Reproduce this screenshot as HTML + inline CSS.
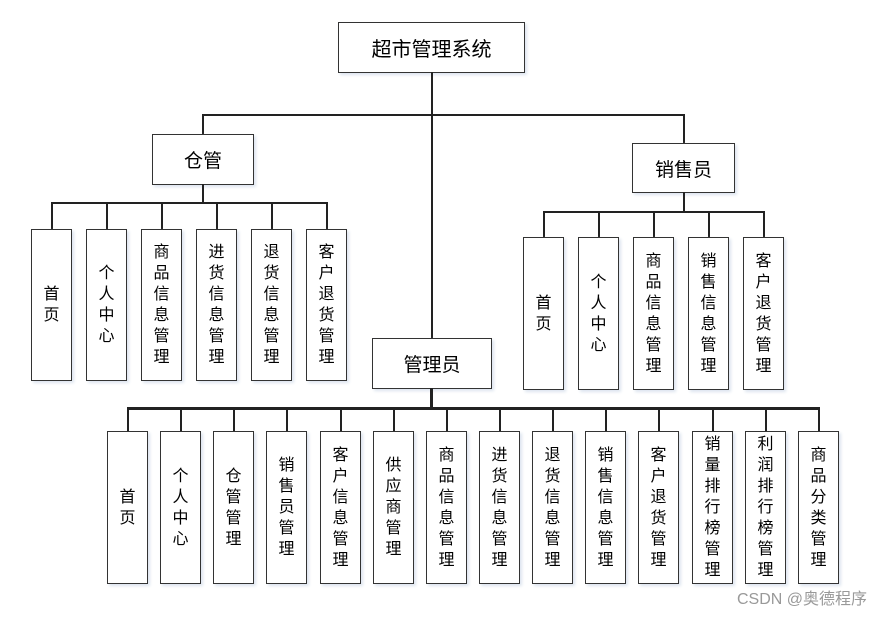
<!DOCTYPE html>
<html><head><meta charset="utf-8"><style>
body{margin:0;width:881px;height:617px;background:#fff;position:relative;font-family:"Liberation Sans","Noto Sans CJK SC",sans-serif;overflow:hidden}
.b{position:absolute;box-sizing:border-box;border:1.5px solid #333;background:#fff;display:flex;align-items:center;justify-content:center;text-align:center;color:#000;box-shadow:2px 2px 3px #dde4ef}
.v{font-size:16px;line-height:21px;width:41px}
.l{position:absolute;background:#222}
.w{position:absolute;right:14px;bottom:8px;font-size:16px;color:#999}
</style></head><body>
<!-- root -->
<div class="b" style="left:338px;top:22px;width:187px;height:51px;font-size:20px">超市管理系统</div>
<div class="l" style="left:431px;top:72px;width:2px;height:266px"></div>
<div class="l" style="left:202px;top:114px;width:482px;height:1.5px"></div>
<div class="l" style="left:202px;top:114px;width:1.5px;height:20px"></div>
<div class="l" style="left:683px;top:114px;width:1.5px;height:29px"></div>
<!-- 仓管 -->
<div class="b" style="left:152px;top:134px;width:102px;height:51px;font-size:19px">仓管</div>
<div class="l" style="left:202px;top:184px;width:1.5px;height:19px"></div>
<div class="l" style="left:51px;top:202px;width:276px;height:1.5px"></div>
<div class="l" style="left:51px;top:202px;width:1.5px;height:27px"></div>
<div class="l" style="left:106px;top:202px;width:1.5px;height:27px"></div>
<div class="l" style="left:161px;top:202px;width:1.5px;height:27px"></div>
<div class="l" style="left:216px;top:202px;width:1.5px;height:27px"></div>
<div class="l" style="left:271px;top:202px;width:1.5px;height:27px"></div>
<div class="l" style="left:326px;top:202px;width:1.5px;height:27px"></div>
<div class="b v" style="left:31px;top:229px;height:152px">首<br>页</div>
<div class="b v" style="left:86px;top:229px;height:152px">个<br>人<br>中<br>心</div>
<div class="b v" style="left:141px;top:229px;height:152px">商<br>品<br>信<br>息<br>管<br>理</div>
<div class="b v" style="left:196px;top:229px;height:152px">进<br>货<br>信<br>息<br>管<br>理</div>
<div class="b v" style="left:251px;top:229px;height:152px">退<br>货<br>信<br>息<br>管<br>理</div>
<div class="b v" style="left:306px;top:229px;height:152px">客<br>户<br>退<br>货<br>管<br>理</div>
<!-- 销售员 -->
<div class="b" style="left:632px;top:143px;width:103px;height:50px;font-size:19px">销售员</div>
<div class="l" style="left:683px;top:192px;width:2px;height:20px"></div>
<div class="l" style="left:543px;top:211px;width:221px;height:2px"></div>
<div class="l" style="left:543px;top:211px;width:1.5px;height:26px"></div>
<div class="l" style="left:598px;top:211px;width:1.5px;height:26px"></div>
<div class="l" style="left:653px;top:211px;width:1.5px;height:26px"></div>
<div class="l" style="left:708px;top:211px;width:1.5px;height:26px"></div>
<div class="l" style="left:763px;top:211px;width:1.5px;height:26px"></div>
<div class="b v" style="left:523px;top:237px;height:153px">首<br>页</div>
<div class="b v" style="left:578px;top:237px;height:153px">个<br>人<br>中<br>心</div>
<div class="b v" style="left:633px;top:237px;height:153px">商<br>品<br>信<br>息<br>管<br>理</div>
<div class="b v" style="left:688px;top:237px;height:153px">销<br>售<br>信<br>息<br>管<br>理</div>
<div class="b v" style="left:743px;top:237px;height:153px">客<br>户<br>退<br>货<br>管<br>理</div>
<!-- 管理员 -->
<div class="b" style="left:372px;top:338px;width:120px;height:51px;font-size:19px">管理员</div>
<div class="l" style="left:430px;top:388px;width:3px;height:21px"></div>
<div class="l" style="left:127px;top:407px;width:693px;height:2.5px"></div>
<div class="b v" style="left:107px;top:431px;height:153px">首<br>页</div>
<div class="b v" style="left:160px;top:431px;height:153px">个<br>人<br>中<br>心</div>
<div class="b v" style="left:213px;top:431px;height:153px">仓<br>管<br>管<br>理</div>
<div class="b v" style="left:266px;top:431px;height:153px">销<br>售<br>员<br>管<br>理</div>
<div class="b v" style="left:320px;top:431px;height:153px">客<br>户<br>信<br>息<br>管<br>理</div>
<div class="b v" style="left:373px;top:431px;height:153px">供<br>应<br>商<br>管<br>理</div>
<div class="b v" style="left:426px;top:431px;height:153px">商<br>品<br>信<br>息<br>管<br>理</div>
<div class="b v" style="left:479px;top:431px;height:153px">进<br>货<br>信<br>息<br>管<br>理</div>
<div class="b v" style="left:532px;top:431px;height:153px">退<br>货<br>信<br>息<br>管<br>理</div>
<div class="b v" style="left:585px;top:431px;height:153px">销<br>售<br>信<br>息<br>管<br>理</div>
<div class="b v" style="left:638px;top:431px;height:153px">客<br>户<br>退<br>货<br>管<br>理</div>
<div class="b v" style="left:692px;top:431px;height:153px">销<br>量<br>排<br>行<br>榜<br>管<br>理</div>
<div class="b v" style="left:745px;top:431px;height:153px">利<br>润<br>排<br>行<br>榜<br>管<br>理</div>
<div class="b v" style="left:798px;top:431px;height:153px">商<br>品<br>分<br>类<br>管<br>理</div>
<div class="l" style="left:127px;top:408px;width:1.5px;height:23px"></div>
<div class="l" style="left:180px;top:408px;width:1.5px;height:23px"></div>
<div class="l" style="left:233px;top:408px;width:1.5px;height:23px"></div>
<div class="l" style="left:286px;top:408px;width:1.5px;height:23px"></div>
<div class="l" style="left:340px;top:408px;width:1.5px;height:23px"></div>
<div class="l" style="left:393px;top:408px;width:1.5px;height:23px"></div>
<div class="l" style="left:446px;top:408px;width:1.5px;height:23px"></div>
<div class="l" style="left:499px;top:408px;width:1.5px;height:23px"></div>
<div class="l" style="left:552px;top:408px;width:1.5px;height:23px"></div>
<div class="l" style="left:605px;top:408px;width:1.5px;height:23px"></div>
<div class="l" style="left:658px;top:408px;width:1.5px;height:23px"></div>
<div class="l" style="left:712px;top:408px;width:1.5px;height:23px"></div>
<div class="l" style="left:765px;top:408px;width:1.5px;height:23px"></div>
<div class="l" style="left:818px;top:408px;width:1.5px;height:23px"></div>
<div class="w">CSDN @奥德程序</div>
</body></html>
